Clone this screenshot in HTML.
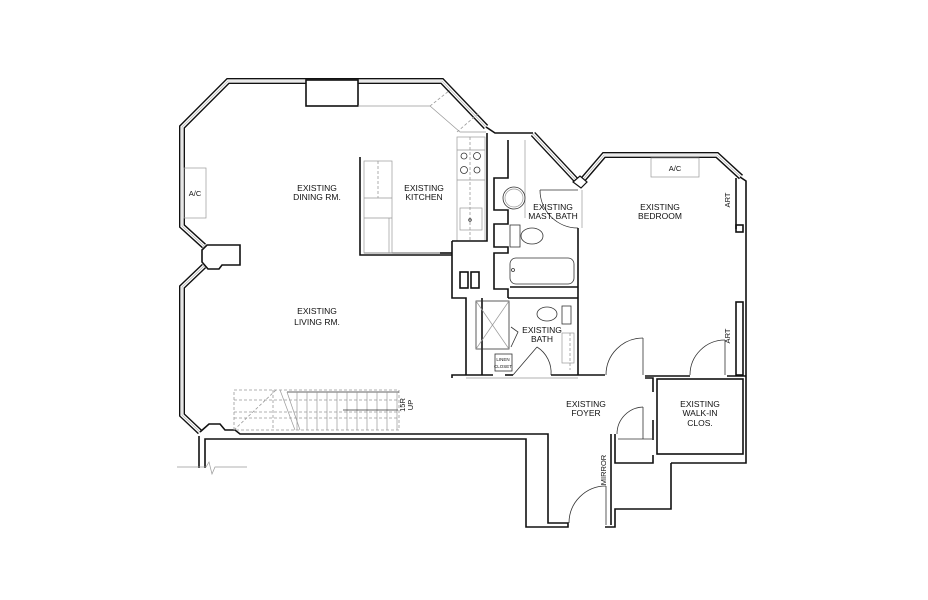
<!DOCTYPE html>
<html><head><meta charset="utf-8"><style>
html,body{margin:0;padding:0;background:#fff;width:928px;height:600px;overflow:hidden}
svg{display:block}
text{font-family:"Liberation Sans",sans-serif;font-size:8.5px;fill:#111;text-anchor:middle}
.w{fill:none;stroke:#111;stroke-width:1.6}
.t{fill:none;stroke:#333;stroke-width:0.8}
.g{fill:none;stroke:#999;stroke-width:0.7}
.d{fill:none;stroke:#999;stroke-width:0.8;stroke-dasharray:3 2}
.win{fill:none;stroke:#111;stroke-width:6}
.win2{fill:none;stroke:#fff;stroke-width:3.2}
.win3{fill:none;stroke:#aaa;stroke-width:0.6}
</style></head><body>
<svg width="928" height="600" viewBox="0 0 928 600" xmlns="http://www.w3.org/2000/svg">
<g>
<polyline class="win" points="204,266 182,287 182,415 200,432"/>
<polyline class="win" points="204,246 182,226 182,127 228,81 442,81 486,127"/>
<polyline class="win" points="533,134 576,180"/>
<polyline class="win" points="580,183 604,155 717,155 741,177"/>
<polyline class="win2" points="204,266 182,287 182,415 200,432"/>
<polyline class="win2" points="204,246 182,226 182,127 228,81 442,81 486,127"/>
<polyline class="win2" points="533,134 576,180"/>
<polyline class="win2" points="580,183 604,155 717,155 741,177"/>
<polyline class="win3" points="204,266 182,287 182,415 200,432"/>
<polyline class="win3" points="204,246 182,226 182,127 228,81 442,81 486,127"/>
<polyline class="win3" points="533,134 576,180"/>
<polyline class="win3" points="580,183 604,155 717,155 741,177"/>
</g>
<rect x="306" y="80" width="52" height="26" fill="#fff" stroke="#111" stroke-width="1.6"/>
<polygon points="202,250 207,245 240,245 240,265 222,265 219,269 208,269 202,262" fill="#fff" stroke="#111" stroke-width="1.6"/>
<rect x="184" y="168" width="22" height="50" class="g"/>
<text x="195" y="196" style="font-size:7.5px">A/C</text>
<polyline class="g" points="358,106 430,106 460,132 486,132"/>
<line class="d" x1="430" y1="106" x2="450" y2="90"/>
<line class="d" x1="457" y1="132" x2="480" y2="112"/>
<rect x="457" y="137" width="28" height="104" class="g"/>
<line class="d" x1="470" y1="137" x2="470" y2="241"/>
<line class="g" x1="457" y1="150" x2="485" y2="150"/><line class="g" x1="457" y1="180" x2="485" y2="180"/>
<circle cx="464" cy="156" r="3" class="t"/><circle cx="477" cy="156" r="3.5" class="t"/>
<circle cx="464" cy="170" r="3.5" class="t"/><circle cx="477" cy="170" r="3" class="t"/>
<rect x="460" y="208" width="22" height="22" class="g"/><circle cx="470" cy="220" r="1.3" class="t"/>
<polyline class="w" points="360,157 360,255 452,255"/>
<line class="t" x1="364" y1="253" x2="452" y2="253"/>
<rect x="364" y="161" width="28" height="92" class="g"/>
<line class="d" x1="378" y1="161" x2="378" y2="198"/>
<line class="g" x1="364" y1="198" x2="392" y2="198"/><line class="g" x1="364" y1="218" x2="392" y2="218"/>
<line class="g" x1="389" y1="218" x2="389" y2="253"/>
<polyline class="w" points="486,127 495,133 533,133"/>
<polyline class="w" points="452,241 452,298 466,298 466,375"/>
<polyline class="w" points="452,241 487,241 487,133"/>
<line class="w" x1="440" y1="253" x2="452" y2="253"/>
<rect x="460" y="272" width="8" height="16" class="w"/><rect x="471" y="272" width="8" height="16" class="w"/>
<polyline class="w" points="508,140 508,178 494,178 494,210 508,210 508,224 494,224 494,247 508,247 508,253 494,253 494,289 508,289 508,298"/>
<line class="g" x1="525" y1="140" x2="525" y2="218"/>
<line class="w" x1="482" y1="298" x2="482" y2="375"/>
<polyline class="w" points="508,298 578,298"/>
<line class="w" x1="510" y1="287" x2="578" y2="287"/>
<ellipse cx="514" cy="198" rx="11" ry="11" class="t"/><ellipse cx="514" cy="198" rx="9" ry="9" class="g"/>
<ellipse cx="532" cy="236" rx="11" ry="8" class="t"/><rect x="510" y="225" width="10" height="22" class="t"/>
<rect x="510" y="258" width="64" height="26" rx="6" class="t"/>
<circle cx="513" cy="270" r="1.5" class="t"/>
<line class="t" x1="540" y1="190" x2="578" y2="190"/>
<path class="t" d="M540,190 A38,38 0 0 0 578,228"/>
<line class="w" x1="578" y1="228" x2="578" y2="375"/>
<line class="g" x1="582" y1="190" x2="582" y2="228"/>
<polygon points="573,182 580,176 587,182 581,188" fill="#fff" stroke="#111" stroke-width="1.2"/>
<polyline class="w" points="740,177 746,181 746,463 671,463"/>
<polyline class="w" points="736,178 736,229"/>
<rect x="736" y="225" width="7" height="7" class="w"/>
<rect x="736" y="302" width="7" height="73" class="w"/>
<rect x="651" y="158" width="48" height="19" class="g"/>
<text x="675" y="171" style="font-size:7.5px">A/C</text>
<text x="730" y="200" transform="rotate(-90 730 200)" style="font-size:7.5px">ART</text>
<text x="730" y="336" transform="rotate(-90 730 336)" style="font-size:7.5px">ART</text>
<rect x="476" y="301" width="33" height="48" class="t"/>
<line class="g" x1="476" y1="301" x2="509" y2="349"/><line class="g" x1="509" y1="301" x2="476" y2="349"/>
<rect x="495" y="354" width="17" height="17" class="t"/>
<text x="503" y="361" style="font-size:4.5px">LINEN</text><text x="503" y="368" style="font-size:4.5px">CLOSET</text>
<ellipse cx="547" cy="314" rx="10" ry="7" class="t"/><rect x="562" y="306" width="9" height="18" class="t"/>
<rect x="562" y="333" width="12" height="30" class="g"/>
<line class="d" x1="570" y1="333" x2="570" y2="370"/>
<polyline class="t" points="511,327 518,332 511,347"/>
<line class="t" x1="513" y1="375" x2="537" y2="347"/>
<path class="t" d="M537,347 A30,30 0 0 1 551,375"/>
<polyline class="w" points="452,378 452,375 493,375"/>
<line class="w" x1="505" y1="375" x2="513" y2="375"/>
<line class="w" x1="551" y1="375" x2="605" y2="375"/>
<line class="w" x1="645" y1="376" x2="690" y2="376"/>
<line class="w" x1="727" y1="376" x2="746" y2="376"/>
<line class="g" x1="466" y1="378" x2="578" y2="378"/>
<line class="t" x1="643" y1="338" x2="643" y2="375"/>
<path class="t" d="M643,338 A37,37 0 0 0 606,375"/>
<line class="t" x1="725" y1="340" x2="725" y2="375"/>
<path class="t" d="M725,340 A35,35 0 0 0 690,375"/>
<rect x="657" y="379" width="86" height="75" class="w"/>
<polyline class="w" points="645,378 653,378 653,392"/>
<polyline class="w" points="611,434 611,525"/>
<polyline class="w" points="615,434 615,463 653,463 653,455"/>
<line class="w" x1="653" y1="420" x2="653" y2="440"/>
<line class="t" x1="618" y1="439" x2="652" y2="439"/>
<line class="t" x1="643" y1="407" x2="643" y2="439"/>
<path class="t" d="M643,407 A27,27 0 0 0 617,434"/>
<text x="606" y="470" transform="rotate(-90 606 470)" style="font-size:7.5px">MIRROR</text>
<polyline class="w" points="671,463 671,509 615,509 615,527 605,527"/>
<line class="t" x1="606" y1="486" x2="606" y2="525"/>
<path class="t" d="M606,486 A37,37 0 0 0 569,523"/>
<polyline class="w" points="200,432 209,424 220,424 225,430 235,430 240,434 548,434 548,523 568,523 568,527 526,527 526,439 205,439 205,468"/>
<line class="w" x1="199" y1="436" x2="199" y2="468"/>
<polyline class="g" points="177,467 206,467 209,462 212,474 215,467 247,467"/>
<rect x="234" y="390" width="165" height="40" class="d"/>
<line class="d" x1="234" y1="400" x2="399" y2="400"/>
<line class="d" x1="234" y1="412" x2="399" y2="412"/>
<line class="d" x1="234" y1="418" x2="399" y2="418"/>
<line class="d" x1="234" y1="430" x2="276" y2="390"/>
<line class="d" x1="273" y1="390" x2="273" y2="430"/>
<line class="t" x1="287" y1="392" x2="399" y2="392"/>
<line class="g" x1="280" y1="390" x2="295" y2="430"/>
<line class="g" x1="287" y1="392" x2="300" y2="430"/>
<g class="g">
<line x1="297" y1="392" x2="297" y2="430"/><line x1="307" y1="392" x2="307" y2="430"/><line x1="317" y1="392" x2="317" y2="430"/><line x1="327" y1="392" x2="327" y2="430"/><line x1="337" y1="392" x2="337" y2="430"/><line x1="347" y1="392" x2="347" y2="430"/><line x1="357" y1="392" x2="357" y2="430"/><line x1="367" y1="392" x2="367" y2="430"/><line x1="377" y1="392" x2="377" y2="430"/><line x1="387" y1="392" x2="387" y2="430"/><line x1="397" y1="392" x2="397" y2="430"/>
</g>
<line class="t" x1="343" y1="410" x2="398" y2="410"/>
<text x="405" y="405" transform="rotate(-90 405 405)" style="font-size:7.5px">15R</text>
<text x="413" y="405" transform="rotate(-90 413 405)" style="font-size:7.5px">UP</text>
<text x="317" y="191">EXISTING</text><text x="317" y="200">DINING RM.</text>
<text x="424" y="191">EXISTING</text><text x="424" y="200">KITCHEN</text>
<text x="317" y="314">EXISTING</text><text x="317" y="325">LIVING RM.</text>
<text x="553" y="210">EXISTING</text><text x="553" y="219">MAST. BATH</text>
<text x="660" y="210">EXISTING</text><text x="660" y="219">BEDROOM</text>
<text x="542" y="333">EXISTING</text><text x="542" y="342">BATH</text>
<text x="586" y="407">EXISTING</text><text x="586" y="416">FOYER</text>
<text x="700" y="407">EXISTING</text><text x="700" y="416">WALK-IN</text><text x="700" y="426">CLOS.</text>
</svg>
</body></html>
